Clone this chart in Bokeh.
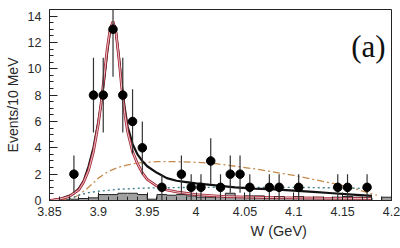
import numpy as np
from bokeh.plotting import figure
from bokeh.models import Range1d, FixedTicker, Label, Title
from bokeh.embed import file_html
from bokeh.resources import INLINE

# ---- data ----
pts_x = [3.875, 3.895, 3.905, 3.915, 3.925, 3.935, 3.945, 3.965, 3.985, 3.995, 4.005,
         4.015, 4.025, 4.035, 4.045, 4.055, 4.075, 4.085, 4.105, 4.145, 4.155, 4.175]
pts_y = [2, 8, 8, 13, 8, 6, 4, 1, 2, 1, 1, 3, 1, 2, 2, 1, 1, 1, 1, 1, 1, 1]
pts_err = [1.41, 2.83, 2.83, 3.61, 2.83, 2.45, 2.0, 1.0, 1.41, 1.0, 1.0,
           1.73, 1.0, 1.41, 1.41, 1.0, 1.0, 1.0, 1.0, 1.0, 1.0, 1.0]

total_x = [3.850, 3.860, 3.870, 3.875, 3.880, 3.885, 3.890, 3.895, 3.900, 3.903, 3.906,
           3.909, 3.912, 3.915, 3.918, 3.921, 3.924, 3.927, 3.930, 3.935, 3.940, 3.945,
           3.950, 3.960, 3.970, 3.980, 3.990, 4.000, 4.020, 4.040, 4.060, 4.080, 4.100,
           4.120, 4.140, 4.160, 4.180]
total_y = [0.0, 0.1, 0.35, 0.55, 0.9, 1.5, 2.6, 4.0, 6.0, 7.4, 9.2,
           11.2, 12.9, 13.5, 12.8, 10.9, 8.8, 7.0, 5.6, 4.3, 3.5, 3.0,
           2.6, 2.1, 1.7, 1.5, 1.4, 1.3, 1.15, 1.0, 0.9, 0.85, 0.75,
           0.65, 0.55, 0.45, 0.35]

sig_x = [3.850, 3.860, 3.870, 3.880, 3.885, 3.890, 3.895, 3.900, 3.903, 3.906, 3.909,
         3.912, 3.915, 3.918, 3.921, 3.924, 3.927, 3.930, 3.935, 3.940, 3.945, 3.950,
         3.960, 3.970, 3.980, 4.000, 4.030, 4.080, 4.130, 4.180]
sig_y = [0.0, 0.1, 0.3, 0.8, 1.4, 2.3, 3.7, 5.8, 7.5, 9.5, 11.5,
         13.0, 13.6, 12.8, 10.8, 8.5, 6.6, 5.2, 3.7, 2.8, 2.1, 1.6,
         1.1, 0.8, 0.65, 0.45, 0.3, 0.22, 0.18, 0.15]

alt_x = [3.860, 3.870, 3.880, 3.890, 3.900, 3.910, 3.920, 3.930, 3.940, 3.960, 3.980,
         4.000, 4.020, 4.040, 4.060, 4.080, 4.100, 4.120, 4.140, 4.160, 4.180, 4.185]
alt_y = [0.0, 0.1, 0.4, 1.0, 1.7, 2.2, 2.5, 2.7, 2.85, 2.95, 2.95,
         2.9, 2.8, 2.6, 2.4, 2.15, 1.9, 1.6, 1.3, 0.95, 0.5, 0.4]

bkg_x = [3.870, 3.880, 3.890, 3.900, 3.920, 3.950, 4.000, 4.050, 4.100, 4.150, 4.180]
bkg_y = [0.1, 0.4, 0.6, 0.7, 0.85, 0.95, 1.0, 1.0, 1.0, 0.95, 0.9]

hist_edges = [3.85, 3.86, 3.87, 3.88, 3.89, 3.90, 3.91, 3.92, 3.93, 3.94, 3.95, 3.96,
              3.97, 3.98, 3.99, 4.00, 4.01, 4.02, 4.03, 4.04, 4.05, 4.06, 4.07, 4.08,
              4.09, 4.10, 4.11, 4.12, 4.13, 4.14, 4.15, 4.16, 4.17, 4.18, 4.19, 4.20]
hist_vals = [0.05, 0.1, 0.1, 0.15, 0.2, 0.45, 0.45, 0.55, 0.55, 0.45, 0.1, 0.45,
             0.4, 0.45, 0.35, 0.25, 0.25, 0.3, 0.55, 0.3, 0.35, 0.35, 0.2, 0.3,
             0.2, 0.3, 0.2, 0.25, 0.2, 0.25, 0.3, 0.25, 0.2, 0.0, 0.25]

x_ticks = [3.85, 3.9, 3.95, 4.0, 4.05, 4.1, 4.15, 4.2]
x_tick_labels = ["3.85", "3.9", "3.95", "4", "4.05", "4.1", "4.15", "4.2"]
y_ticks = [0, 2, 4, 6, 8, 10, 12, 14]

FONT = "Liberation Sans"

p = figure(width=400, height=248, output_backend="svg", toolbar_location=None,
           x_range=Range1d(3.85, 4.2), y_range=Range1d(0, 14.5),
           min_border_left=49, min_border_right=9, min_border_top=9, min_border_bottom=48)
p.background_fill_color = "white"
p.border_fill_color = "white"
p.outline_line_color = "#222222"
p.outline_line_width = 1
p.grid.visible = False

p.xaxis.ticker = FixedTicker(ticks=x_ticks, minor_ticks=list(np.round(np.arange(3.85, 4.2001, 0.01), 3)))
p.xaxis.major_label_overrides = {t: l for t, l in zip(x_ticks, x_tick_labels)}
p.yaxis.ticker = FixedTicker(ticks=y_ticks, minor_ticks=list(np.arange(0, 14.51, 0.5)))
for ax in (p.xaxis[0], p.yaxis[0]):
    ax.major_tick_in = 8
    ax.major_tick_out = 0
    ax.minor_tick_in = 4
    ax.minor_tick_out = 0
    ax.axis_line_color = "#222222"
    ax.major_tick_line_color = "#222222"
    ax.minor_tick_line_color = "#222222"
    ax.major_label_text_font = FONT
    ax.major_label_text_font_size = "12.5px"
    ax.major_label_text_color = "#2a2a2a"
p.xaxis.major_label_standoff = 6
p.yaxis.major_label_standoff = 8
p.yaxis.axis_label = "Events/10 MeV"
p.yaxis.axis_label_text_font = FONT
p.yaxis.axis_label_text_font_size = "14px"
p.yaxis.axis_label_text_font_style = "normal"
p.yaxis.axis_label_text_color = "#2a2a2a"
p.yaxis.axis_label_standoff = 4

# histogram
p.quad(left=hist_edges[:-1], right=hist_edges[1:], top=hist_vals, bottom=0,
       fill_color="#a0a0a0", line_color=None)
p.step(x=hist_edges, y=hist_vals + [hist_vals[-1]], mode="after", line_color="#222222", line_width=1)

# curves
p.line(alt_x, alt_y, line_color="#c48a4a", line_width=1.3, line_dash="7 3 2 3")
p.line(bkg_x, bkg_y, line_color="#3f7f8f", line_width=1.4, line_dash="2 3")
p.line(total_x, total_y, line_color="#111111", line_width=2.2)
p.line(sig_x, sig_y, line_color="#a8283a", line_width=2.7)
p.line(sig_x, sig_y, line_color="#f2d6d6", line_width=0.9)

# data points with errors
p.segment(x0=pts_x, x1=pts_x,
          y0=[y - e for y, e in zip(pts_y, pts_err)],
          y1=[y + e for y, e in zip(pts_y, pts_err)],
          line_color="#333333", line_width=1.2)
p.scatter(pts_x, pts_y, size=8.5, marker="circle", fill_color="black", line_color="black")

p.add_layout(Label(x=4.194, y=11.7, text="(a)", text_font="Liberation Serif",
                   text_font_size="31px", text_align="right", text_baseline="alphabetic",
                   text_color="#111111"))
p.add_layout(Title(text="W (GeV)", align="left", offset=201, standoff=4,
                   text_font=FONT, text_font_size="14.5px", text_font_style="normal",
                   text_color="#2a2a2a"), "below")

open("out.html", "w").write(file_html(p, INLINE))
